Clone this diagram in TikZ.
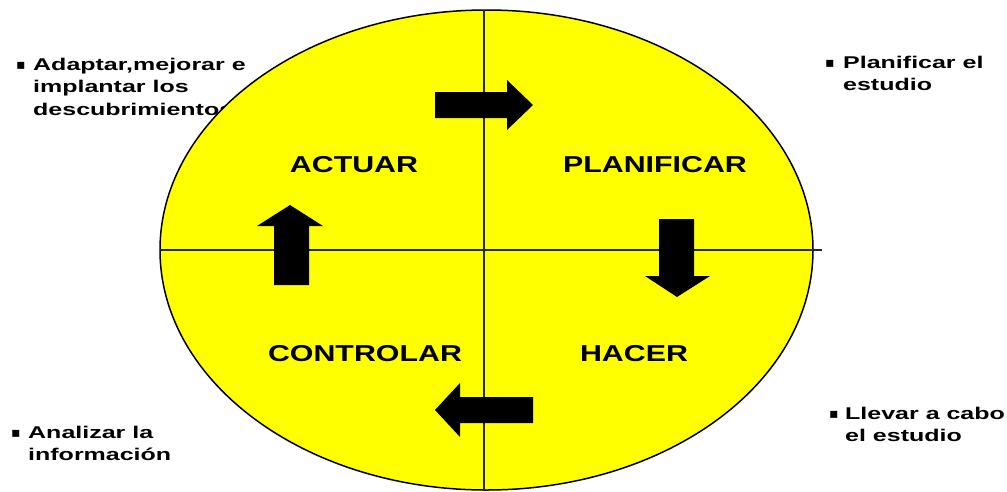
\documentclass[tikz,border=0pt]{standalone}
\usepackage{fontspec}
\setmainfont{Liberation Sans}
\newfontfamily\dejavu{DejaVu Sans}
\definecolor{discyellow}{RGB}{255,255,0}
\newcommand\wideL[1]{\scalebox{1.32}[1]{#1}}
\newcommand\sidetext[1]{\scalebox{1.47}[1]{\bfseries\fontsize{17}{22.5}\selectfont\begin{tabular}[t]{@{}l@{}}#1\end{tabular}}}
\tikzset{
  lbl/.style={inner sep=0pt, font=\bfseries\fontsize{23}{23}\selectfont},
  side/.style={anchor=base west, inner sep=0pt},
  bul/.style={anchor=base west, inner sep=0pt, font=\dejavu\fontsize{14}{14}\selectfont},
  arr/.style={fill=black, draw=none},
  disc/.style={fill=discyellow, draw=black, line width=1.5pt},
  axis/.style={draw=black!85, line width=1.8pt},
}
\begin{document}
\begin{tikzpicture}[x=1pt,y=-1pt]
\useasboundingbox (0,0) rectangle (1007,491);
% side texts (drawn first: the disc covers the end of one line)
\node[bul] (b1) at (16,69) {▪};
\node[side] (t1) at (33,70) {\sidetext{Adaptar,mejorar e\\implantar los\\descubrimientos}};
\node[bul] (b2) at (825,67) {▪};
\node[side] (t2) at (843,68) {\sidetext{Planificar el\\estudio}};
\node[bul] (b3) at (829,418) {▪};
\node[side] (t3) at (845,419) {\sidetext{Llevar a cabo\\el estudio}};
\node[bul] (b4) at (11,437) {▪};
\node[side] (t4) at (28,438) {\sidetext{Analizar la\\información}};
% disc
\path[disc] (486.5,250) ellipse [x radius=326.5, y radius=240];
\coordinate (vt) at (484,10);
\coordinate (vb) at (484,491);
\coordinate (hl) at (160,250);
\coordinate (hr) at (822,250);
\draw[axis] (vt) -- (vb);
\draw[axis] (hl) -- (hr);
% arrows
\path[arr] (435,92) -- (507,92) -- (507,80) -- (533,105) -- (507,130) -- (507,118) -- (435,118) -- cycle;
\path[arr] (659,219) -- (694,219) -- (694,276) -- (710,276) -- (677,297) -- (645,276) -- (659,276) -- cycle;
\path[arr] (274,285) -- (309,285) -- (309,226) -- (323,226) -- (290,205) -- (257,226) -- (274,226) -- cycle;
\path[arr] (533,397) -- (533,423) -- (460,423) -- (460,437) -- (435,410) -- (460,383) -- (460,397) -- cycle;
% quadrant labels
\node[lbl] (actuar) at (354,165) {\wideL{ACTUAR}};
\node[lbl] (planificar) at (655,165) {\wideL{PLANIFICAR}};
\node[lbl] (controlar) at (365,354) {\wideL{CONTROLAR}};
\node[lbl] (hacer) at (634,354) {\wideL{HACER}};
\end{tikzpicture}
\end{document}
